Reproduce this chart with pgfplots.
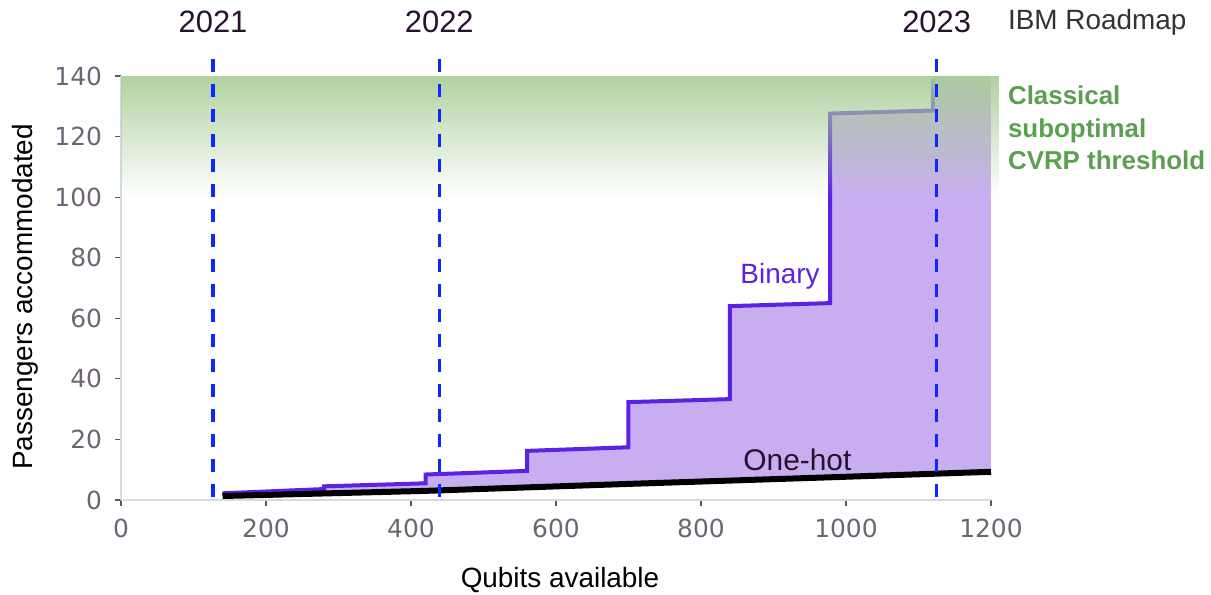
\documentclass[border=0pt]{standalone}
\usepackage{fontspec}
\setmainfont{Liberation Sans}
\newfontfamily\tickfont{DejaVu Sans}
\usepackage{pgfplots}
\pgfplotsset{compat=1.18}
\usetikzlibrary{fadings}
\tikzfading[name=greenfade, top color=transparent!8, bottom color=transparent!100]

\definecolor{binline}{RGB}{91,34,230}
\definecolor{binfill}{RGB}{200,174,240}
\definecolor{gtop}{RGB}{170,205,152}
\definecolor{gtext}{RGB}{90,160,80}
\definecolor{dashblue}{RGB}{10,40,255}
\definecolor{yeartext}{RGB}{38,18,47}
\definecolor{ibmtext}{RGB}{51,51,51}
\definecolor{ticktext}{RGB}{110,100,115}
\definecolor{spine}{RGB}{211,220,230}
\definecolor{tickc}{RGB}{90,90,90}

\begin{document}
\begin{tikzpicture}
\begin{axis}[
  scale only axis, width=435bp, height=212bp,
  xmin=0, xmax=1200, ymin=0, ymax=140,
  clip=false,
  axis lines=left, axis line style={-, draw=spine, line width=0.8bp},
  xtick={0,200,...,1200}, ytick={0,20,...,140},
  tick align=outside, major tick length=3bp,
  tick style={draw=tickc, line width=0.6bp},
  ticklabel style={font=\tickfont\fontsize{12.5}{12.5}\selectfont, text=ticktext},
  yticklabel style={xshift=-3bp},
  xticklabel style={yshift=-3bp},
  /pgf/number format/assume math mode=true,
  /pgf/number format/1000 sep={},
  xlabel={Qubits available}, ylabel={Passengers accommodated},
  xlabel style={at={(axis description cs:0.5046,-0.189)}, anchor=center, font=\fontsize{14}{14}\selectfont},
  ylabel style={at={(axis description cs:-0.110,0.479)}, anchor=center, font=\fontsize{14}{14}\selectfont},
]
% binary region above one-hot
\addplot[draw=none, fill=binfill] coordinates {
  (140,2.2) (280,3.6) (280,4.5) (420,5.5) (420,8.4) (560,9.6) (560,16.2) (700,17.4)
  (700,32.3) (840,33.3) (840,64) (978,65) (978,127.6) (1120,128.6) (1120,140) (1200,140)
  (1200,9.3) (980,7.5) (700,5.3) (420,3.0) (140,1.3)
} -- cycle;
% binary encoding
\addplot[binline, line width=2bp] coordinates {
  (140,2.2) (280,3.6) (280,4.5) (420,5.5) (420,8.4) (560,9.6) (560,16.2) (700,17.4)
  (700,32.3) (840,33.3) (840,64) (978,65) (978,127.6) (1120,128.6) (1120,139)
};
% classical threshold band
\addplot[draw=none, fill=gtop, path fading=greenfade] coordinates {
  (0,100) (1212,100) (1212,140) (0,140)
} -- cycle;
% one-hot encoding
\addplot[black, line width=3bp] coordinates {
  (140,1.3) (420,3.0) (700,5.3) (980,7.5) (1200,9.3)
};
% IBM roadmap
\addplot[dashblue, line width=1.6bp, dash pattern=on 6.5bp off 6bp] coordinates {(127,145.5) (127,-2)};
\addplot[dashblue, line width=1.6bp, dash pattern=on 6.5bp off 6bp] coordinates {(439,145.5) (439,-2)};
\addplot[dashblue, line width=1.6bp, dash pattern=on 6.5bp off 6bp] coordinates {(1125,145.5) (1125,-2)};

\node[anchor=center, text=yeartext, font=\fontsize{15.5}{15.5}\selectfont] at (axis cs:127,157.8) {2021};
\node[anchor=center, text=yeartext, font=\fontsize{15.5}{15.5}\selectfont] at (axis cs:439,157.8) {2022};
\node[anchor=center, text=yeartext, font=\fontsize{15.5}{15.5}\selectfont] at (axis cs:1125,157.8) {2023};
\node[anchor=west, inner sep=0pt, text=ibmtext, font=\fontsize{14}{14}\selectfont] at (axis cs:1223,157.8) {IBM Roadmap};
\node[anchor=north west, inner sep=0pt, align=left, text=gtext, font=\bfseries\fontsize{13}{16.5}\selectfont] at (axis cs:1223,137) {Classical\\suboptimal\\CVRP threshold};
\node[anchor=center, text=binline, font=\fontsize{14}{14}\selectfont] at (axis cs:909,74) {Binary};
\node[anchor=center, text=yeartext, font=\fontsize{15}{15}\selectfont] at (axis cs:933,13.2) {One-hot};

\coordinate (bbsw) at (rel axis cs:-0.1391,-0.2241);
\coordinate (bbne) at (rel axis cs:1.2529,1.1792);
\end{axis}
\pgfresetboundingbox
\path[use as bounding box] (bbsw) rectangle (bbne);
\end{tikzpicture}
\end{document}
